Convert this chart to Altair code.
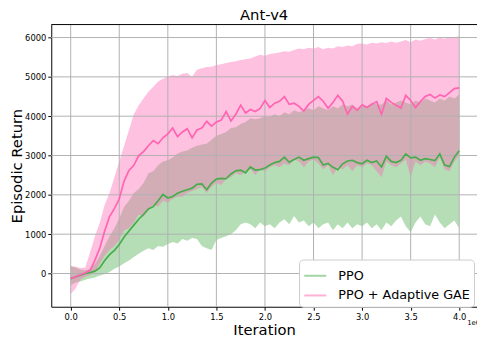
import altair as alt
import pandas as pd

# iteration axis, in units of 1e6
iterations = [round(i * 0.05, 2) for i in range(81)]

ppo_mean = [
    -130, -90, -45, 0, 25, 60, 150, 330, 480, 590,
    740, 930, 1080, 1230, 1380, 1500, 1640, 1700, 1850, 2010,
    1920, 1960, 2040, 2090, 2130, 2170, 2270, 2280, 2130, 2300,
    2400, 2420, 2410, 2530, 2610, 2630, 2560, 2710, 2630, 2640,
    2680, 2760, 2820, 2850, 2960, 2830, 2900, 2960, 2880, 2920,
    2960, 2950, 2760, 2800, 2700, 2640, 2790, 2860, 2880, 2820,
    2790, 2880, 2820, 2860, 2710, 2980, 2850, 2820, 2880, 3040,
    2940, 2960, 2880, 2920, 2900, 2870, 3040, 2760, 2720, 2960,
    3120]
ppo_high = [
    200, 150, 100, 80, 120, 250, 450, 700, 950, 1150,
    1400, 1700, 1850, 2050, 2150, 2300, 2550, 2600, 2750, 2850,
    2880, 2950, 3050, 3100, 3130, 3200, 3250, 3280, 3300, 3400,
    3500, 3550, 3600, 3700, 3720, 3800, 3850, 3950, 3920, 3950,
    4000, 3980, 4050, 4000, 4100, 4050, 4150, 4100, 4150, 4200,
    4150, 4250, 4200, 4150, 4250, 4200, 4300, 4250, 4300, 4200,
    4300, 4250, 4350, 4300, 4300, 4400, 4300, 4350, 4400, 4350,
    4300, 4400, 4350, 4450, 4400, 4350, 4450, 4400, 4500, 4450,
    4550]
ppo_low = [
    -300, -230, -200, -160, -130, -100, -50, -20, 40, 120,
    180, 260, 330, 420, 500, 580, 640, 600, 700, 680,
    750, 800, 760, 880, 830, 900, 880, 700, 640, 600,
    850, 900, 950, 1000, 1100, 1250, 1300, 1250, 1150, 1300,
    1200, 1250, 1150, 1300, 1380, 1250, 1460, 1300, 1350, 1200,
    1300, 1150, 1250, 1300, 1100, 1250, 1150, 1300, 1150, 1250,
    1200, 1300, 1150, 1250, 1100, 1300, 1200, 1350, 1450, 1200,
    1050, 1300, 1450, 1250, 1200, 1500, 1300, 1150, 1250, 1350,
    1150]

agae_mean = [
    -130, -80, -30, 20, 80, 340, 650, 1080, 1450, 1650,
    1900, 2350, 2620, 2750, 3000, 3100, 3250, 3380, 3300, 3450,
    3550, 3700, 3480, 3600, 3680, 3450, 3650, 3700, 3870, 3750,
    3850, 3900, 4120, 3880, 4050, 4280, 4080, 4170, 4120, 4200,
    4400, 4220, 4330, 4380, 4500, 4300, 4330, 4250, 4130, 4300,
    4400, 4500, 4380, 4200, 4350, 4530, 4380, 4050, 4250, 4150,
    4290, 4220, 4300, 4370, 4050, 4450, 4350, 4280, 4210, 4530,
    4400, 4220, 4370, 4500, 4550, 4460, 4540, 4500, 4600, 4700,
    4720]
agae_high = [
    180, 170, 140, 150, 540, 950, 1300, 1750, 2050, 2450,
    2850, 3250, 3650, 4050, 4280, 4450, 4620, 4750, 4880, 4950,
    5000, 5050, 5020, 5080, 5100, 5000, 5180, 5220, 5250, 5260,
    5300, 5320, 5350, 5380, 5400, 5430, 5450, 5470, 5520, 5560,
    5540, 5580, 5600, 5620, 5650, 5640, 5680, 5720, 5700, 5740,
    5720, 5760, 5700, 5740, 5720, 5780, 5760, 5800, 5780, 5840,
    5850, 5820, 5870, 5850, 5880, 5860, 5900, 5870, 5900, 5940,
    5880, 5950, 5920, 5960, 5990, 5950, 6000, 5970, 6020, 6000,
    6030]
agae_low = [
    -520, -380, -150, -80, -40, 40, 250, 450, 600, 700,
    850, 1100, 1150, 1300, 1500, 1450, 1600, 1750, 1700, 1850,
    1800, 1900, 1950, 1950, 2050, 2100, 2150, 2200, 2050, 2200,
    2300, 2250, 2400, 2450, 2550, 2500, 2600, 2650, 2500, 2650,
    2600, 2700, 2750, 2700, 2800, 2750, 2900, 2850, 2700, 2850,
    2900, 2800, 2650, 2750, 2500, 2700, 2650, 2750, 2600, 2750,
    2700, 2800, 2750, 2600, 2450, 2850, 2750, 2700, 2800, 2900,
    2450, 2850, 2750, 2850, 2800, 2700, 2950, 2650, 2600, 2850,
    3000]

series_names = ["PPO", "PPO + Adaptive GAE"]
series_colors = ["#47ac4a", "#ff63b1"]
x_ticks = [0.0, 0.5, 1.0, 1.5, 2.0, 2.5, 3.0, 3.5, 4.0]
y_ticks = [0, 1000, 2000, 3000, 4000, 5000, 6000]

rows = []
for name, m, lo, hi in [(series_names[0], ppo_mean, ppo_low, ppo_high),
                        (series_names[1], agae_mean, agae_low, agae_high)]:
    for x, a, b, c in zip(iterations, m, lo, hi):
        rows.append({"series": name, "x": x, "mean": a, "lo": b, "hi": c})
df = pd.DataFrame(rows)

W, H = 433, 287
font = "DejaVu Sans"

xscale = alt.Scale(domain=[-0.2, 4.183], nice=False, zero=False)
yscale = alt.Scale(domain=[-845, 6330], nice=False, zero=False)
cscale = alt.Scale(domain=series_names, range=series_colors)

legend = alt.Legend(
    title=None, orient="none", legendX=252, legendY=239,
    symbolType="stroke", symbolSize=500, symbolStrokeWidth=2,
    symbolOpacity=0.5, labelFontSize=13, labelOffset=11,
    labelFont=font, labelColor="black",
    fillColor="white", strokeColor="#cccccc",
    cornerRadius=4, padding=4, rowPadding=0,
)

bands = alt.Chart(df).mark_area(opacity=0.4).encode(
    x=alt.X("x:Q", scale=xscale,
            axis=alt.Axis(values=x_ticks, format=".1f", title="Iteration", grid=False)),
    y=alt.Y("lo:Q", scale=yscale,
            axis=alt.Axis(values=y_ticks, format="d", title="Episodic Return", grid=False)),
    y2="hi:Q",
    color=alt.Color("series:N", scale=cscale, legend=legend),
)

vgrid = alt.Chart(pd.DataFrame({"x": x_ticks})).mark_rule(color="#b0b0b0", strokeWidth=1).encode(
    x=alt.X("x:Q", scale=xscale))
hgrid = alt.Chart(pd.DataFrame({"y": y_ticks})).mark_rule(color="#b0b0b0", strokeWidth=1).encode(
    y=alt.Y("y:Q", scale=yscale))

lines = alt.Chart(df).mark_line(strokeWidth=1.7).encode(
    x=alt.X("x:Q", scale=xscale),
    y=alt.Y("mean:Q", scale=yscale),
    color=alt.Color("series:N", scale=cscale, legend=legend),
)

top_spine = alt.Chart(pd.DataFrame({"a": [0]})).mark_rule(color="black", strokeWidth=1).encode(
    x=alt.value(0), x2=alt.value(W), y=alt.value(0))

offset_text = alt.Chart(pd.DataFrame({"t": ["1e6"]})).mark_text(
    fontSize=7, align="left", baseline="middle", font=font, color="black").encode(
    x=alt.value(423), y=alt.value(304), text="t:N")

chart = alt.layer(bands, vgrid, hgrid, lines, top_spine, offset_text).properties(
    width=W, height=H,
    title=alt.TitleParams("Ant-v4", fontSize=15, font=font, fontWeight="normal", offset=1,
                          color="black"),
    autosize=alt.AutoSizeParams(type="none"),
    padding={"left": 44, "top": 14, "right": 0, "bottom": 32},
).configure_view(stroke=None).configure_axis(
    domainColor="black", tickColor="black", tickSize=3.5, labelFontSize=8.5,
    labelFont=font, labelColor="black", labelPadding=2,
    titleFont=font, titleFontSize=15, titleFontWeight="normal", titleColor="black",
).configure_axisX(titlePadding=2).configure_axisY(titlePadding=0)

chart.save("out.html", embed_options={"renderer": "svg", "actions": False})
